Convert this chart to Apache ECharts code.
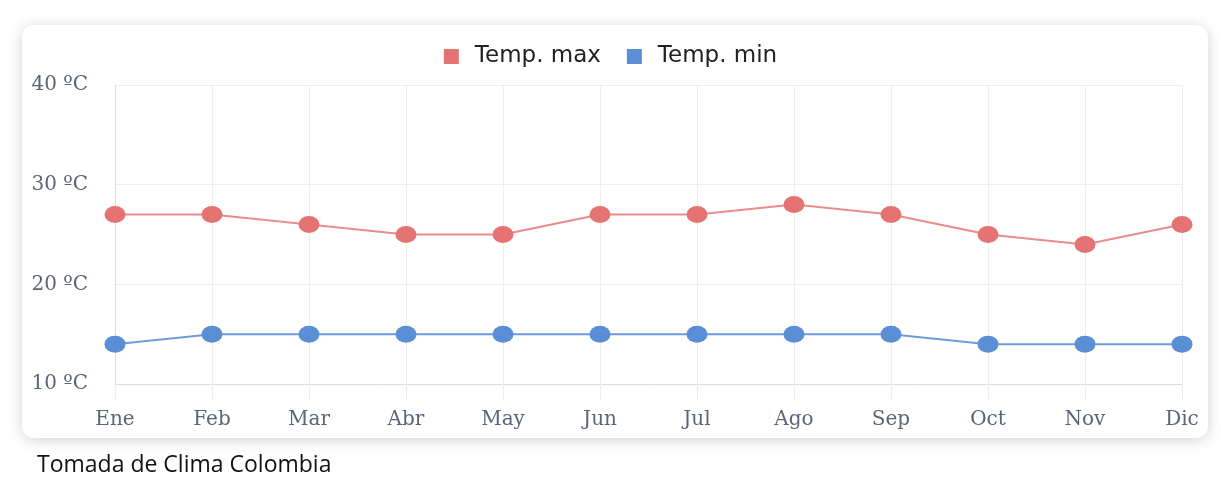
<!DOCTYPE html>
<html>
<head>
<meta charset="utf-8">
<script src="https://cdn.jsdelivr.net/npm/echarts@6/dist/echarts.min.js"></script>
<style>
	html, body { margin: 0; padding: 0; background: #fff; }
	#chart { width: 1221px; height: 477px; }
</style>
</head>
<body>
<div id="chart"></div>
<script>
	// meses y temperaturas (ºC)
	var months = ['Ene', 'Feb', 'Mar', 'Abr', 'May', 'Jun', 'Jul', 'Ago', 'Sep', 'Oct', 'Nov', 'Dic'];
	var tempMax = [27, 27, 26, 25, 25, 27, 27, 28, 27, 25, 24, 26];
	var tempMin = [14, 15, 15, 15, 15, 15, 15, 15, 15, 14, 14, 14];
	var yTicks = [10, 20, 30, 40];

	var myChart = echarts.init(document.getElementById('chart'));
	var option = {
		animation: false,
		graphic: [
			{
				type: 'rect',
				z: -10,
				shape: { x: 22, y: 25, width: 1186, height: 413, r: 12 },
				style: {
					fill: '#fff',
					shadowBlur: 14,
					shadowColor: 'rgba(0,0,0,0.18)',
					shadowOffsetY: 2
				}
			},
			{
				type: 'text',
				left: 37,
				top: 454,
				style: {
					text: 'Tomada de Clima Colombia',
					font: '23px "Open Sans"',
					fill: '#111'
				}
			}
		],
		legend: {
			top: 40,
			left: 'center',
			itemWidth: 15,
			itemHeight: 15,
			itemGap: 26,
			icon: 'rect',
			data: ['Temp. max', 'Temp. min'],
			textStyle: {
				color: '#222',
				fontSize: 23,
				fontFamily: 'DejaVu Sans',
				padding: [0, 0, 0, 11]
			}
		},
		grid: {
			left: 115,
			right: 39,
			top: 85,
			bottom: 93,
			containLabel: false
		},
		xAxis: {
			type: 'category',
			boundaryGap: false,
			data: months,
			axisLine: { lineStyle: { color: '#dcdcdc' } },
			axisTick: { show: true, length: 16, lineStyle: { color: '#eeeeee' } },
			splitLine: { show: true, lineStyle: { color: '#eeeeee' } },
			axisLabel: {
				color: '#5b6478',
				fontSize: 20,
				fontFamily: 'DejaVu Serif',
				margin: 26
			}
		},
		yAxis: {
			type: 'value',
			min: yTicks[0],
			max: yTicks[yTicks.length - 1],
			interval: 10,
			axisLine: { show: true, lineStyle: { color: '#dcdcdc' } },
			axisTick: { show: false },
			splitLine: { lineStyle: { color: '#eeeeee' } },
			axisLabel: {
				color: '#5b6478',
				fontSize: 20,
				fontFamily: 'DejaVu Serif',
				margin: 27,
				formatter: '{value} ºC'
			}
		},
		series: [
			{
				name: 'Temp. max',
				type: 'line',
				data: tempMax,
				color: '#e57373',
				symbol: 'circle',
				symbolSize: [21, 17],
				lineStyle: { width: 2, color: '#eb8c8c' }
			},
			{
				name: 'Temp. min',
				type: 'line',
				data: tempMin,
				color: '#5b8fd5',
				symbol: 'circle',
				symbolSize: [21, 17],
				lineStyle: { width: 2, color: '#6d9bdb' }
			}
		]
	};
	myChart.setOption(option);
</script>
</body>
</html>
